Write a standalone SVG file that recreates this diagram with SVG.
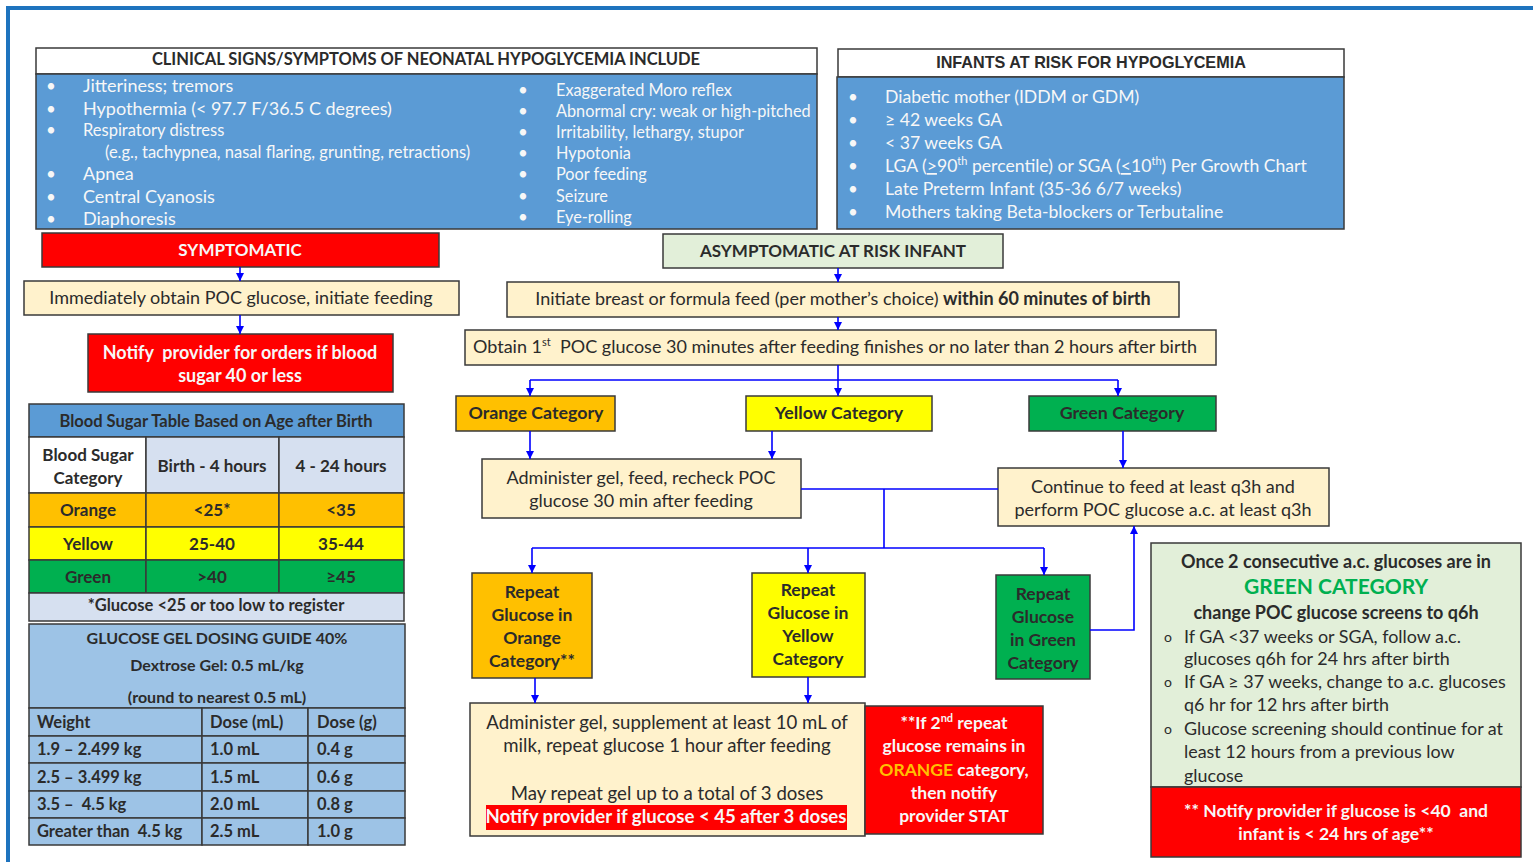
<svg xmlns="http://www.w3.org/2000/svg" width="1533" height="862" viewBox="0 0 1533 862" xml:space="preserve">
<defs>
<marker id="ah" viewBox="0 0 10 10" refX="10" refY="5" markerWidth="8" markerHeight="9" markerUnits="userSpaceOnUse" orient="auto"><path d="M0,0 L10,5 L0,10 Z" fill="#0000ff"/></marker>
<style>
.bx{stroke:#3a3a3a;stroke-width:1.5}
.blue{fill:#5b9bd5}
.cream{fill:#fff2cc}
.lg{fill:#e2efd9}
.red{fill:#ff0000}
.org{fill:#ffc000}
.yel{fill:#ffff00}
.grn{fill:#00b050}
.lb{fill:#d6e0f0}
.gel{fill:#9dc3e6}
.wh{fill:#ffffff}
text{font-family:Lato,"Liberation Sans",sans-serif;fill:#2b2b2b;white-space:pre}
.b{font-weight:bold}
.c{text-anchor:middle}
.w{fill:#f7f7f7}
.t18{font-size:18px}
.t17{font-size:17px}
.t16{font-size:16px}
.s165{font-size:16.5px}
.s175{font-size:17.5px}
.cn{fill:none;stroke:#0000ff;stroke-width:1.6}
.cnA{fill:none;stroke:#0000ff;stroke-width:1.6;marker-end:url(#ah)}
</style>
</defs>
<rect width="1533" height="862" fill="#ffffff"/>
<path d="M8,862 V8 H1533" fill="none" stroke="#1e73be" stroke-width="4"/>

<g id="clinical-signs">
<rect x="36" y="48" width="781" height="26" class="bx wh"/>
<rect x="36" y="74" width="781" height="155" class="bx blue"/>
<text x="426" y="65" class="c b" font-size="16.5">CLINICAL SIGNS/SYMPTOMS OF NEONATAL HYPOGLYCEMIA INCLUDE</text>
<text x="46" y="92" class="w t17">•</text><text x="83" y="92" class="w t18">Jitteriness; tremors</text>
<text x="46" y="115" class="w t17">•</text><text x="83" y="115" class="w t18">Hypothermia (&lt; 97.7 F/36.5 C degrees)</text>
<text x="46" y="136" class="w t17">•</text><text x="83" y="136" class="w s165">Respiratory distress</text>
<text x="105" y="158" class="w s165">(e.g., tachypnea, nasal flaring, grunting, retractions)</text>
<text x="46" y="180" class="w t17">•</text><text x="83" y="180" class="w t18">Apnea</text>
<text x="46" y="203" class="w t17">•</text><text x="83" y="203" class="w t18">Central Cyanosis</text>
<text x="46" y="225" class="w t17">•</text><text x="83" y="225" class="w t18">Diaphoresis</text>
<text x="518" y="96" class="w t17">•</text><text x="556" y="96" class="w" font-size="16.3">Exaggerated Moro reflex</text>
<text x="518" y="117" class="w t17">•</text><text x="556" y="117" class="w" font-size="16.3">Abnormal cry: weak or high-pitched</text>
<text x="518" y="138" class="w t17">•</text><text x="556" y="138" class="w" font-size="16.3">Irritability, lethargy, stupor</text>
<text x="518" y="159" class="w t17">•</text><text x="556" y="159" class="w" font-size="16.3">Hypotonia</text>
<text x="518" y="180" class="w t17">•</text><text x="556" y="180" class="w" font-size="16.3">Poor feeding</text>
<text x="518" y="202" class="w t17">•</text><text x="556" y="202" class="w" font-size="16.3">Seizure</text>
<text x="518" y="223" class="w t17">•</text><text x="556" y="223" class="w" font-size="16.3">Eye-rolling</text>
</g>

<g id="infants-at-risk">
<rect x="838" y="49" width="506" height="28" class="bx wh"/>
<rect x="837" y="77" width="507" height="152" class="bx blue"/>
<text x="1091" y="68" class="c b" font-size="16.2" style="font-family:'Liberation Sans',Arial,sans-serif">INFANTS AT RISK FOR HYPOGLYCEMIA</text>
<text x="848" y="103" class="w t17">•</text><text x="885" y="103" class="w" font-size="17.6">Diabetic mother (IDDM or GDM)</text>
<text x="848" y="126" class="w t17">•</text><text x="885" y="126" class="w" font-size="17.6">≥ 42 weeks GA</text>
<text x="848" y="149" class="w t17">•</text><text x="885" y="149" class="w" font-size="17.6">&lt; 37 weeks GA</text>
<text x="848" y="172" class="w t17">•</text><text x="885" y="172" class="w" font-size="17.6">LGA (<tspan text-decoration="underline">&gt;</tspan>90<tspan font-size="11" dy="-7">th</tspan><tspan dy="7"> percentile) or SGA (</tspan><tspan text-decoration="underline">&lt;</tspan>10<tspan font-size="11" dy="-7">th</tspan><tspan dy="7">) Per Growth Chart</tspan></text>
<text x="848" y="195" class="w t17">•</text><text x="885" y="195" class="w" font-size="17.6">Late Preterm Infant (35-36 6/7 weeks)</text>
<text x="848" y="218" class="w t17">•</text><text x="885" y="218" class="w" font-size="17.6">Mothers taking Beta-blockers or Terbutaline</text>
</g>

<g id="symptomatic">
<rect x="42" y="233" width="397" height="34" class="bx red"/>
<text x="240" y="256" class="c b w t17">SYMPTOMATIC</text>
</g>
<g id="immediately">
<rect x="24" y="281" width="435" height="34" class="bx cream"/>
<text x="241" y="304" class="c t18">Immediately obtain POC glucose, initiate feeding</text>
</g>
<g id="notify-provider">
<rect x="88" y="334" width="305" height="58" class="bx red"/>
<text x="240" y="359" class="c b w t18">Notify  provider for orders if blood</text>
<text x="240" y="382" class="c b w t18">sugar 40 or less</text>
</g>

<g id="blood-sugar-table">
<rect x="29" y="404" width="375" height="33" class="bx blue"/>
<rect x="29" y="437" width="117" height="56" class="bx wh"/>
<rect x="146" y="437" width="133" height="56" class="bx lb"/>
<rect x="279" y="437" width="125" height="56" class="bx lb"/>
<rect x="29" y="493" width="117" height="34" class="bx org"/>
<rect x="146" y="493" width="133" height="34" class="bx org"/>
<rect x="279" y="493" width="125" height="34" class="bx org"/>
<rect x="29" y="527" width="117" height="33" class="bx yel"/>
<rect x="146" y="527" width="133" height="33" class="bx yel"/>
<rect x="279" y="527" width="125" height="33" class="bx yel"/>
<rect x="29" y="560" width="117" height="33" class="bx grn"/>
<rect x="146" y="560" width="133" height="33" class="bx grn"/>
<rect x="279" y="560" width="125" height="33" class="bx grn"/>
<rect x="29" y="593" width="375" height="28" class="bx lb"/>
<text x="216" y="427" class="c b s165">Blood Sugar Table Based on Age after Birth</text>
<text x="88" y="461" class="c b t17">Blood Sugar</text>
<text x="88" y="484" class="c b t17">Category</text>
<text x="212" y="472" class="c b t17">Birth - 4 hours</text>
<text x="341" y="472" class="c b t17">4 - 24 hours</text>
<text x="88" y="516" class="c b t17">Orange</text>
<text x="212" y="516" class="c b t17">&lt;25*</text>
<text x="341" y="516" class="c b t17">&lt;35</text>
<text x="88" y="550" class="c b t17">Yellow</text>
<text x="212" y="550" class="c b t17">25-40</text>
<text x="341" y="550" class="c b t17">35-44</text>
<text x="88" y="583" class="c b t17">Green</text>
<text x="212" y="583" class="c b t17">&gt;40</text>
<text x="341" y="583" class="c b t17">≥45</text>
<text x="216" y="611" class="c b s165">*Glucose &lt;25 or too low to register</text>
</g>

<g id="gel-dosing-table">
<rect x="29" y="624" width="376" height="84" class="bx gel"/>
<rect x="29" y="708" width="173" height="28" class="bx gel"/>
<rect x="202" y="708" width="106" height="28" class="bx gel"/>
<rect x="308" y="708" width="97" height="28" class="bx gel"/>
<rect x="29" y="736" width="173" height="27" class="bx gel"/>
<rect x="202" y="736" width="106" height="27" class="bx gel"/>
<rect x="308" y="736" width="97" height="27" class="bx gel"/>
<rect x="29" y="763" width="173" height="28" class="bx gel"/>
<rect x="202" y="763" width="106" height="28" class="bx gel"/>
<rect x="308" y="763" width="97" height="28" class="bx gel"/>
<rect x="29" y="791" width="173" height="27" class="bx gel"/>
<rect x="202" y="791" width="106" height="27" class="bx gel"/>
<rect x="308" y="791" width="97" height="27" class="bx gel"/>
<rect x="29" y="818" width="173" height="27" class="bx gel"/>
<rect x="202" y="818" width="106" height="27" class="bx gel"/>
<rect x="308" y="818" width="97" height="27" class="bx gel"/>
<text x="217" y="644" class="c b t16">GLUCOSE GEL DOSING GUIDE 40%</text>
<text x="217" y="671" class="c b t16">Dextrose Gel: 0.5 mL/kg</text>
<text x="217" y="703" class="c b t16">(round to nearest 0.5 mL)</text>
<text x="37" y="728" class="b s165">Weight</text><text x="210" y="728" class="b s165">Dose (mL)</text><text x="317" y="728" class="b s165">Dose (g)</text>
<text x="37" y="755" class="b s165">1.9 – 2.499 kg</text><text x="210" y="755" class="b s165">1.0 mL</text><text x="317" y="755" class="b s165">0.4 g</text>
<text x="37" y="783" class="b s165">2.5 – 3.499 kg</text><text x="210" y="783" class="b s165">1.5 mL</text><text x="317" y="783" class="b s165">0.6 g</text>
<text x="37" y="810" class="b s165">3.5 –  4.5 kg</text><text x="210" y="810" class="b s165">2.0 mL</text><text x="317" y="810" class="b s165">0.8 g</text>
<text x="37" y="837" class="b s165">Greater than  4.5 kg</text><text x="210" y="837" class="b s165">2.5 mL</text><text x="317" y="837" class="b s165">1.0 g</text>
</g>

<g id="asymptomatic">
<rect x="663" y="234" width="340" height="34" class="bx lg"/>
<text x="833" y="257" class="c b t17">ASYMPTOMATIC AT RISK INFANT</text>
</g>
<g id="initiate-feed">
<rect x="507" y="282" width="672" height="35" class="bx cream"/>
<text x="843" y="305" class="c t18">Initiate breast or formula feed (per mother’s choice) <tspan class="b">within 60 minutes of birth</tspan></text>
</g>
<g id="obtain-poc">
<rect x="465" y="330" width="751" height="35" class="bx cream"/>
<text x="835" y="353" class="c t18">Obtain 1<tspan font-size="11" dy="-7">st</tspan><tspan dy="7">  POC glucose 30 minutes after feeding finishes or no later than 2 hours after birth</tspan></text>
</g>
<g id="orange-category">
<rect x="456" y="396" width="159" height="35" class="bx org"/>
<text x="536" y="419" class="c b" font-size="17.8">Orange Category</text>
</g>
<g id="yellow-category">
<rect x="746" y="396" width="186" height="35" class="bx yel"/>
<text x="839" y="419" class="c b" font-size="17.8">Yellow Category</text>
</g>
<g id="green-category">
<rect x="1029" y="396" width="187" height="35" class="bx grn"/>
<text x="1122" y="419" class="c b" font-size="17.8">Green Category</text>
</g>
<g id="administer-gel-feed">
<rect x="482" y="459" width="319" height="59" class="bx cream"/>
<text x="641" y="484" class="c t18">Administer gel, feed, recheck POC</text>
<text x="641" y="507" class="c t18">glucose 30 min after feeding</text>
</g>
<g id="continue-feed">
<rect x="998" y="468" width="331" height="58" class="bx cream"/>
<text x="1163" y="493" class="c t18">Continue to feed at least q3h and</text>
<text x="1163" y="516" class="c t18">perform POC glucose a.c. at least q3h</text>
</g>
<g id="repeat-orange">
<rect x="472" y="573" width="120" height="105" class="bx org"/>
<text x="532" y="598" class="c b s175">Repeat</text>
<text x="532" y="621" class="c b s175">Glucose in</text>
<text x="532" y="644" class="c b s175">Orange</text>
<text x="532" y="667" class="c b s175">Category**</text>
</g>
<g id="repeat-yellow">
<rect x="752" y="573" width="113" height="104" class="bx yel"/>
<text x="808" y="596" class="c b s175">Repeat</text>
<text x="808" y="619" class="c b s175">Glucose in</text>
<text x="808" y="642" class="c b s175">Yellow</text>
<text x="808" y="665" class="c b s175">Category</text>
</g>
<g id="repeat-green">
<rect x="996" y="575" width="94" height="104" class="bx grn"/>
<text x="1043" y="600" class="c b s175">Repeat</text>
<text x="1043" y="623" class="c b s175">Glucose</text>
<text x="1043" y="646" class="c b s175">in Green</text>
<text x="1043" y="669" class="c b s175">Category</text>
</g>
<g id="administer-supplement">
<rect x="470" y="703" width="395" height="133" class="bx cream"/>
<text x="667" y="729" class="c" font-size="18.6">Administer gel, supplement at least 10 mL of</text>
<text x="667" y="752" class="c" font-size="18.6">milk, repeat glucose 1 hour after feeding</text>
<text x="667" y="800" class="c" font-size="18.6">May repeat gel up to a total of 3 doses</text>
<rect x="486" y="805" width="361" height="25" fill="#ff0000"/>
<text x="666" y="823" class="c b w" font-size="18.6">Notify provider if glucose &lt; 45 after 3 doses</text>
</g>
<g id="notify-stat">
<rect x="865" y="706" width="178" height="128" class="bx red"/>
<text x="954" y="729" class="c b w s175">**If 2<tspan font-size="11" dy="-7" class="w">nd</tspan><tspan dy="7" class="w"> repeat</tspan></text>
<text x="954" y="752" class="c b w s175">glucose remains in</text>
<text x="954" y="776" class="c b w s175"><tspan fill="#ffc000" style="fill:#ffc000">ORANGE</tspan> category,</text>
<text x="954" y="799" class="c b w s175">then notify</text>
<text x="954" y="822" class="c b w s175">provider STAT</text>
</g>
<g id="green-info">
<rect x="1151" y="543" width="370" height="244" class="bx lg"/>
<text x="1336" y="568" class="c b" font-size="18">Once 2 consecutive a.c. glucoses are in</text>
<text x="1336" y="594" class="c b" font-size="21" style="fill:#00b050">GREEN CATEGORY</text>
<text x="1336" y="619" class="c b" font-size="18">change POC glucose screens to q6h</text>
<text x="1168" y="642" class="c" font-size="14">o</text><text x="1184" y="643" font-size="17.9">If GA &lt;37 weeks or SGA, follow a.c.</text>
<text x="1184" y="665" font-size="17.9">glucoses q6h for 24 hrs after birth</text>
<text x="1168" y="687" class="c" font-size="14">o</text><text x="1184" y="688" font-size="17.9">If GA ≥ 37 weeks, change to a.c. glucoses</text>
<text x="1184" y="711" font-size="17.9">q6 hr for 12 hrs after birth</text>
<text x="1168" y="734" class="c" font-size="14">o</text><text x="1184" y="735" font-size="17.9">Glucose screening should continue for at</text>
<text x="1184" y="758" font-size="17.9">least 12 hours from a previous low</text>
<text x="1184" y="782" font-size="17.9">glucose</text>
</g>
<g id="notify-under-24h">
<rect x="1151" y="787" width="370" height="70" class="bx red"/>
<text x="1336" y="817" class="c b w s175">** Notify provider if glucose is &lt;40  and</text>
<text x="1336" y="840" class="c b w s175">infant is &lt; 24 hrs of age**</text>
</g>

<g id="connectors">
<path d="M240,267 V281" class="cnA"/>
<path d="M240,315 V334" class="cnA"/>
<path d="M838,268 V282" class="cnA"/>
<path d="M838,317 V330" class="cnA"/>
<path d="M838,365 V396" class="cnA"/>
<path d="M530,380 H1118" class="cn"/>
<path d="M530,380 V396" class="cnA"/>
<path d="M1118,380 V396" class="cnA"/>
<path d="M530,431 V459" class="cnA"/>
<path d="M772,431 V459" class="cnA"/>
<path d="M1123,431 V468" class="cnA"/>
<path d="M801,489 H998" class="cn"/>
<path d="M884,489 V548" class="cn"/>
<path d="M532,548 H1044" class="cn"/>
<path d="M532,548 V573" class="cnA"/>
<path d="M808,548 V573" class="cnA"/>
<path d="M1044,548 V575" class="cnA"/>
<path d="M535,678 V703" class="cnA"/>
<path d="M808,677 V703" class="cnA"/>
<path d="M1090,630 H1134 V526" class="cnA"/>
</g>
</svg>
